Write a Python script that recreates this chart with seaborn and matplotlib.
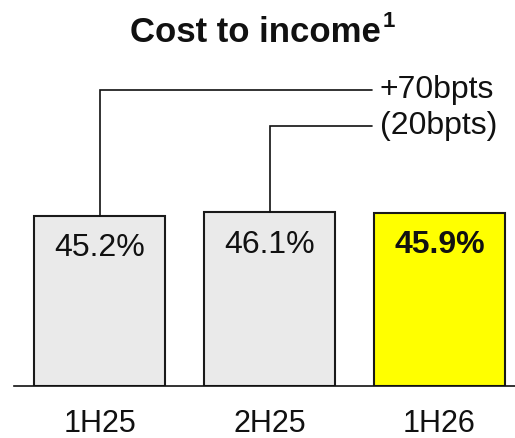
import matplotlib
matplotlib.use('Agg')
import matplotlib.pyplot as plt
import seaborn as sns
import pandas as pd

# 데이터
periods = ['1H25', '2H25', '1H26']
ratios = [45.2, 46.1, 45.9]
bar_colors = ['#EAEAEA', '#EAEAEA', '#FFFF00']
change_labels = ['+70bpts', '(20bpts)']

df = pd.DataFrame({'period': periods, 'ratio': ratios})

sns.set_style('white')
plt.rcParams['font.family'] = ['Liberation Sans', 'DejaVu Sans']

fig = plt.figure(figsize=(5.15, 4.38), dpi=100)
ax = fig.add_axes([14 / 515, 52.3 / 438, 501 / 515, 385.7 / 438])

sns.barplot(data=df, x='period', y='ratio', hue='period', palette=bar_colors,
            legend=False, width=0.77, edgecolor='#1a1a1a', linewidth=1.5,
            saturation=1, ax=ax)

ax.set_ylim(0, 102.5)
ax.set_xlim(-0.503, 2.444)

# 값 라벨
for i, v in enumerate(ratios):
    ax.text(i, v - 8.6, f'{v}%', ha='center', va='center', fontsize=23,
            fontweight='bold' if i == len(ratios) - 1 else 'normal', color='#111111')

# 변화 브래킷
levels = [78.6, 69.1]
x_end = 1.603
for i, (lvl, lab) in enumerate(zip(levels, change_labels)):
    ax.plot([i, i, x_end], [ratios[i], lvl, lvl], color='#111111', lw=1.2,
            solid_joinstyle='miter', clip_on=False)
    ax.text(x_end + 0.045, lvl, lab, ha='left', va='center', fontsize=23,
            color='#111111')

# 축
for s in ['top', 'right', 'left']:
    ax.spines[s].set_visible(False)
ax.spines['bottom'].set_color('#111111')
ax.spines['bottom'].set_linewidth(1.2)
ax.set_yticks([])
ax.set_xlabel('')
ax.set_ylabel('')
ax.tick_params(axis='x', length=0, pad=16.5, labelsize=22, labelcolor='#111111')

# 제목 + 각주 번호
fig.text(130 / 515, 1 - 42 / 438, 'Cost to income', ha='left', va='baseline',
         fontsize=25, fontweight='bold', color='#111111')
fig.text(383 / 515, 1 - 27 / 438, '1', ha='left', va='baseline',
         fontsize=16, fontweight='bold', color='#111111')

fig.savefig('out.png', dpi=100)
